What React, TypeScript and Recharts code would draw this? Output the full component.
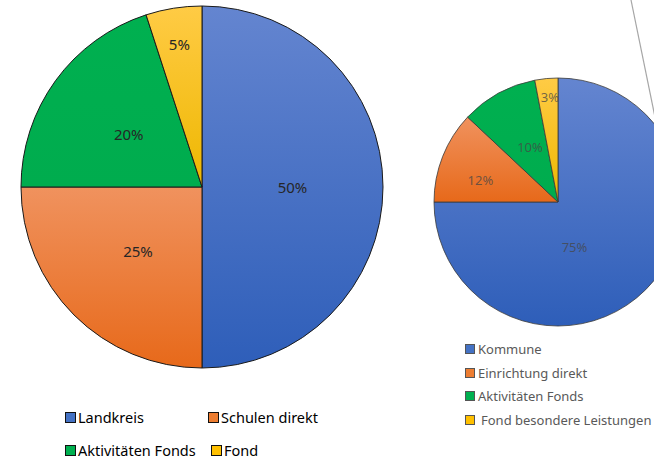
import { PieChart, Pie, Cell } from 'recharts';

// left chart
const leftNames = ['Landkreis', 'Schulen direkt', 'Aktivitäten Fonds', 'Fond'];
const leftValues = [50, 25, 20, 5];

// right chart
const rightNames = ['Kommune', 'Einrichtung direkt', 'Aktivitäten Fonds', 'Fond besondere Leistungen'];
const rightValues = [75, 12, 10, 3];

const GRADS = [
  { id: 'blue', top: '#6485d0', bottom: '#2e5eb9' },
  { id: 'orange', top: '#f0925e', bottom: '#e7691a' },
  { id: 'green', top: '#00b050', bottom: '#00ac4e' },
  { id: 'yellow', top: '#ffcb45', bottom: '#eeb700' },
];
const SWATCH = ['#4472c4', '#ed7d31', '#00b050', '#ffc000'];

// label placement: [radius factor, angle shift in degrees]
const LEFT_LABEL_POS = [[0.5, 0], [0.5, 0], [0.5, 0], [0.8, 0]];
const RIGHT_LABEL_POS = [[0.39, -25], [0.65, 6], [0.5, -2], [0.85, -1]];

const FONT = '"Noto Sans", "Open Sans", sans-serif';
const RAD = Math.PI / 180;
const NO_MARGIN = { top: 0, right: 0, bottom: 0, left: 0 };

function makeLabel(pos: number[][], size: number, fill: string) {
  return (p: any) => {
    const [f, shift] = pos[p.index];
    const a = (p.midAngle + shift) * RAD;
    const r = p.outerRadius * f;
    const x = p.cx + r * Math.cos(a);
    const y = p.cy - r * Math.sin(a);
    return (
      <text x={x} y={y} fill={fill} fontSize={size} fontFamily={FONT} textAnchor="middle" dominantBaseline="central">
        {`${Math.round(p.percent * 100)}%`}
      </text>
    );
  };
}

function Defs({ prefix }: { prefix: string }) {
  return (
    <defs>
      {GRADS.map((g) => (
        <linearGradient key={g.id} id={`${prefix}-${g.id}`} x1="0" y1="0" x2="0" y2="1">
          <stop offset="0%" stopColor={g.top} />
          <stop offset="100%" stopColor={g.bottom} />
        </linearGradient>
      ))}
    </defs>
  );
}

export default function App() {
  const leftData = leftNames.map((name, i) => ({ name, value: leftValues[i] }));
  const rightData = rightNames.map((name, i) => ({ name, value: rightValues[i] }));

  return (
    <div style={{ position: 'absolute', left: 0, top: 0, width: 654, height: 459, overflow: 'hidden', background: '#fff', fontFamily: FONT }}>
      <svg width={654} height={459} style={{ position: 'absolute', left: 0, top: 0 }}>
        <line x1={631} y1={0} x2={656} y2={122} stroke="#a6a6a6" strokeWidth={1.2} />
      </svg>

      <div style={{ position: 'absolute', left: 0, top: 0 }}>
        <PieChart width={404} height={380} margin={NO_MARGIN}>
          <Defs prefix="l" />
          <Pie
            data={leftData}
            dataKey="value"
            cx={202}
            cy={187}
            outerRadius={181}
            startAngle={90}
            endAngle={-270}
            stroke="#1a1a1a"
            strokeWidth={1}
            label={makeLabel(LEFT_LABEL_POS, 15, '#262626')}
            labelLine={false}
            isAnimationActive={false}
          >
            {leftData.map((d, i) => (
              <Cell key={d.name} fill={`url(#l-${GRADS[i].id})`} />
            ))}
          </Pie>
        </PieChart>
      </div>

      <div style={{ position: 'absolute', left: 420, top: 60 }}>
        <PieChart width={300} height={290} margin={NO_MARGIN}>
          <Defs prefix="r" />
          <Pie
            data={rightData}
            dataKey="value"
            cx={138}
            cy={142}
            outerRadius={124}
            startAngle={90}
            endAngle={-270}
            stroke="#3a3a3a"
            strokeWidth={0.8}
            label={makeLabel(RIGHT_LABEL_POS, 13, 'rgba(70,70,70,0.75)')}
            labelLine={false}
            isAnimationActive={false}
          >
            {rightData.map((d, i) => (
              <Cell key={d.name} fill={`url(#r-${GRADS[i].id})`} />
            ))}
          </Pie>
        </PieChart>
      </div>

      {/* left legend */}
      {leftNames.map((name, i) => {
        const col = [65, 208, 65, 211][i];
        const row = i < 2 ? 417 : 450;
        return (
          <div key={name} style={{ position: 'absolute', left: col, top: row - 10, height: 20, display: 'flex', alignItems: 'center', fontSize: 14.5, color: '#000', whiteSpace: 'nowrap' }}>
            <span style={{ width: 9, height: 9, background: SWATCH[i], border: '1.5px solid #111', marginRight: 2 }} />
            {name}
          </div>
        );
      })}

      {/* right legend */}
      {rightNames.map((name, i) => (
        <div key={name} style={{ position: 'absolute', left: 465, top: 349 + i * 23.7 - 10, height: 20, display: 'flex', alignItems: 'center', fontSize: 13, color: '#595959', whiteSpace: 'nowrap' }}>
          <span style={{ width: 8, height: 8, background: SWATCH[i], border: '1px solid #555', marginRight: i === 3 ? 6 : 3 }} />
          {name}
        </div>
      ))}
    </div>
  );
}
